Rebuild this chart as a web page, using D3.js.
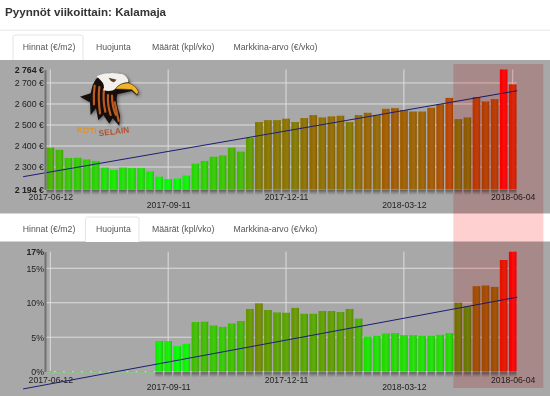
<!DOCTYPE html>
<html>
<head>
<meta charset="utf-8">
<script src="https://cdn.jsdelivr.net/npm/d3@7"></script>
<style>
html, body { margin: 0; padding: 0; background: #fff; overflow: hidden; }
svg { display: block; font-family: "Liberation Sans", Arial, sans-serif; }
</style>
</head>
<body>
<div id="chart"></div>
<script>
// hinnat viikoittain, 2017-06-12 ... 2018-06-04
const priceValues = [2392, 2382, 2343, 2344, 2336, 2329, 2297, 2286, 2297, 2295, 2295, 2279, 2254,
    2243, 2245, 2259, 2316, 2329, 2349, 2355, 2392, 2373, 2439, 2514, 2523, 2523, 2530, 2514, 2533,
    2547, 2536, 2541, 2544, 2514, 2547, 2558, 2547, 2577, 2580, 2571, 2564, 2564, 2582, 2599, 2629,
    2528, 2536, 2633, 2612, 2623, 2764, 2693];
const swingValues = [0, 0, 0, 0, 0, 0, 0, 0, 0, 0, 0, 0, 4.45, 4.45, 3.7, 4.05, 7.2, 7.25, 6.7, 6.5,
    7.0, 7.35, 9.1, 9.9, 8.95, 8.6, 8.55, 9.25, 8.4, 8.4, 8.8, 8.8, 8.65, 9.1, 7.7, 5.1, 5.2, 5.55,
    5.6, 5.3, 5.3, 5.2, 5.2, 5.35, 5.6, 10, 9.45, 12.4, 12.5, 12.3, 16.2, 17.4];
const priceTicks = [2194, 2300, 2400, 2500, 2600, 2700, 2764];
const priceGrid = [2300, 2400, 2500, 2600, 2700];
const swingTicks = [0, 5, 10, 15, 17.4];
const swingGrid = [0, 5, 10, 15];
// viikkonumero ja paivamaara
const dateWeeks = [0, 13, 26, 39, 51];
const dateLabels = ["2017-06-12", "2017-09-11", "2017-12-11", "2018-03-12", "2018-06-04"];
// trendiviiva: [viikko, arvo]
const priceTrend = [[-3, 2254], [51.5, 2663]];
const swingTrend = [[-3, -2.5], [51.5, 10.8]];
const tabNames = ["Hinnat (€/m2)", "Huojunta", "Määrät (kpl/vko)", "Markkina-arvo (€/vko)"];
const tabLeft = [22.7, 96, 152, 233.5];

const width = 550, height = 396;
const svg = d3.select("#chart").append("svg")
    .attr("width", width)
    .attr("height", height);

const defs = svg.append("defs");
const shine = defs.append("linearGradient").attr("id", "bar-shine");
shine.append("stop").attr("offset", "0%").attr("stop-color", "#000").attr("stop-opacity", 0.02);
shine.append("stop").attr("offset", "55%").attr("stop-color", "#fff").attr("stop-opacity", 0.05);
shine.append("stop").attr("offset", "100%").attr("stop-color", "#000").attr("stop-opacity", 0.16);
const fade = defs.append("linearGradient").attr("id", "bar-shadow").attr("x2", 0).attr("y2", 1);
fade.append("stop").attr("offset", "0%").attr("stop-color", "#444").attr("stop-opacity", 0.8);
fade.append("stop").attr("offset", "100%").attr("stop-color", "#666").attr("stop-opacity", 0);
defs.append("filter").attr("id", "soft")
    .append("feGaussianBlur").attr("stdDeviation", 0.45);
const logoFilter = defs.append("filter").attr("id", "logo-shadow");
logoFilter.append("feGaussianBlur").attr("stdDeviation", 0.5).attr("result", "b");
logoFilter.append("feDropShadow")
    .attr("in", "b")
    .attr("dx", 4).attr("dy", 4).attr("stdDeviation", 4)
    .attr("flood-color", "#333").attr("flood-opacity", 0.6);

// tausta
svg.append("rect").attr("y", 60).attr("width", width).attr("height", height - 60).attr("fill", "#a8a8a8");
svg.append("rect").attr("y", 213.5).attr("width", width).attr("height", 28).attr("fill", "#fff");
svg.append("rect").attr("y", 29.5).attr("width", width).attr("height", 1.5).attr("fill", "#eeeeee");

svg.append("text")
    .attr("x", 5).attr("y", 15.5)
    .attr("font-size", 11.6).attr("font-weight", "bold").attr("fill", "#333")
    .text("Pyynnöt viikoittain: Kalamaja");

function drawTabs(baseline, active) {
    const g = svg.append("g");
    const boxes = [[13, 83], [85.5, 139]];
    const b = boxes[active];
    g.append("path")
        .attr("d", `M${b[0]},${baseline + 10}V${baseline - 13}q0,-2 2,-2H${b[1] - 2}q2,0 2,2V${baseline + 10}`)
        .attr("fill", "#fff")
        .attr("stroke", "#e4e4e4");
    g.selectAll("text")
        .data(tabNames)
        .join("text")
        .attr("x", (d, i) => tabLeft[i])
        .attr("y", baseline)
        .attr("font-size", 8.7)
        .attr("fill", "#555")
        .text(d => d);
}
drawTabs(50, 0);
drawTabs(232, 1);

const x = d3.scaleLinear().domain([0, 51]).range([50.3, 512.7]);
const barWidth = 7.6;

function drawPanel(values, yTop, yBottom, ticks, grid, trend, fmt, dateY, rowGap) {
    const y = d3.scaleLinear().domain([ticks[0], ticks[ticks.length - 1]]).range([yBottom, yTop]);
    const positive = values.filter(v => v > 0);
    const color = d3.scaleLinear()
        .domain(d3.extent(positive))
        .range(["#00ff00", "#ff0000"])
        .clamp(true);
    const g = svg.append("g");

    g.append("g").selectAll("line")
        .data(grid)
        .join("line")
        .attr("x1", 45).attr("x2", 517)
        .attr("y1", d => y(d)).attr("y2", d => y(d))
        .attr("stroke", "#dedede").attr("stroke-width", 1);
    g.append("g").selectAll("line")
        .data(dateWeeks)
        .join("line")
        .attr("x1", d => x(d)).attr("x2", d => x(d))
        .attr("y1", yTop).attr("y2", yBottom)
        .attr("stroke", "#dedede").attr("stroke-width", 1);

    // varjot palkkien alla
    g.append("g").selectAll("rect")
        .data(values.map((v, i) => [i, v]).filter(d => d[1] > 0))
        .join("rect")
        .attr("x", d => x(d[0]) - barWidth / 2)
        .attr("y", yBottom + 0.5)
        .attr("width", barWidth)
        .attr("height", 5.5)
        .attr("fill", "url(#bar-shadow)");

    const bars = g.append("g").attr("filter", "url(#soft)");
    bars.selectAll(".bar")
        .data(values)
        .join("rect")
        .attr("class", "bar")
        .attr("x", (d, i) => x(i) - barWidth / 2)
        .attr("y", d => d > ticks[0] ? y(d) : yBottom - 0.5)
        .attr("width", barWidth)
        .attr("height", d => d > ticks[0] ? yBottom - y(d) : 1)
        .attr("fill", d => color(d));
    bars.selectAll(".shine")
        .data(values)
        .join("rect")
        .attr("class", "shine")
        .attr("x", (d, i) => x(i) - barWidth / 2)
        .attr("y", d => y(d))
        .attr("width", barWidth)
        .attr("height", d => yBottom - y(d))
        .attr("fill", "url(#bar-shine)");

    g.append("path")
        .datum(trend)
        .attr("fill", "none")
        .attr("stroke", "#1c1c78")
        .attr("stroke-width", 1)
        .attr("d", d3.line().x(d => x(d[0])).y(d => y(d[1])));

    // y-akseli
    const yAxis = g.append("g")
        .attr("transform", "translate(45,0)")
        .call(d3.axisLeft(y).tickValues(ticks).tickFormat(fmt).tickSize(0).tickPadding(1));
    yAxis.select(".domain").attr("stroke", "#707070").attr("stroke-width", 2);
    yAxis.selectAll("text")
        .attr("font-family", "Liberation Sans, Arial, sans-serif")
        .attr("font-size", 8.8)
        .attr("fill", "#222")
        .attr("font-weight", d => (d === ticks[0] && values === priceValues) || d === ticks[ticks.length - 1] ? "bold" : null);

    // paivamaarat, joka toinen alemmalle riville
    const xAxis = g.append("g")
        .attr("transform", `translate(0,${dateY})`)
        .call(d3.axisBottom(x).tickValues(dateWeeks).tickFormat((d, i) => dateLabels[i]).tickSize(0).tickPadding(0));
    xAxis.select(".domain").remove();
    xAxis.selectAll("text")
        .attr("font-family", "Liberation Sans, Arial, sans-serif")
        .attr("font-size", 8.7)
        .attr("fill", "#222")
        .attr("y", (d, i) => i % 2 ? rowGap : 0)
        .attr("dy", "0.71em");
}

const thousands = d3.formatLocale({ decimal: ",", thousands: " ", grouping: [3], currency: ["", " €"] }).format(",d");
drawPanel(priceValues, 69.5, 189.3, priceTicks, priceGrid, priceTrend, d => thousands(d) + " €", 193.8, 8.5);
drawPanel(swingValues, 251.7, 371.7, swingTicks, swingGrid, swingTrend, d => Math.floor(d) + "%", 376.5, 7.8);

// logo
const logo = svg.append("g").attr("transform", "translate(70,65) scale(0.3333)");
const eagle = logo.append("g").attr("filter", "url(#logo-shadow)");
eagle.append("path")
    .attr("fill", "#17100a")
    .attr("d", "M78,42 Q110,18 160,28 Q178,40 178,55 L200,72 Q208,82 202,92 L185,78 Q160,84 142,88 Q135,110 150,150 L148,182 L128,160 L118,176 L100,150 L85,166 L78,130 L62,150 L60,112 L30,95 L62,85 L68,60 Z");
eagle.selectAll(".feather")
    .data([
        "M74,62 Q70,90 72,118", "M88,66 Q84,100 90,145", "M102,72 Q98,105 106,140",
        "M114,90 Q112,120 122,150", "M126,92 Q126,125 138,150", "M134,112 Q140,140 146,168"])
    .join("path")
    .attr("class", "feather")
    .attr("fill", "none")
    .attr("stroke", "#bd5a20")
    .attr("stroke-width", 6.5)
    .attr("stroke-linecap", "round")
    .attr("d", d => d);
eagle.append("path")
    .attr("fill", "#f2f0ec")
    .attr("d", "M80,34 Q115,18 160,28 Q176,38 176,52 Q150,52 136,72 Q124,82 100,76 Q106,60 94,48 Z");
eagle.append("path")
    .attr("fill", "#5a3c20")
    .attr("d", "M116,38 L140,44 L132,52 Q122,50 116,38 Z");
eagle.append("path")
    .attr("fill", "#f0b428")
    .attr("stroke", "#3a2a10")
    .attr("stroke-width", 1.5)
    .attr("d", "M136,72 Q150,52 176,54 Q198,62 205,80 L202,90 L186,74 Q160,72 136,72 Z");
logo.append("text")
    .attr("x", 20).attr("y", 205)
    .attr("font-size", 25).attr("font-weight", "bold")
    .attr("fill", "#e8901a")
    .attr("transform", "rotate(4 50 195)")
    .text("KOTI");
logo.append("text")
    .attr("x", 86).attr("y", 208)
    .attr("font-size", 25).attr("font-weight", "bold")
    .attr("fill", "#ad5430")
    .attr("transform", "rotate(-7 135 200)")
    .text("SELAIN");

// viimeiset viikot korostettuna
svg.append("rect")
    .attr("x", x(44.45)).attr("y", 64)
    .attr("width", x(54.38) - x(44.45)).attr("height", 324)
    .attr("fill", "#ffd0d0").style("mix-blend-mode", "multiply");
</script>
</body>
</html>
